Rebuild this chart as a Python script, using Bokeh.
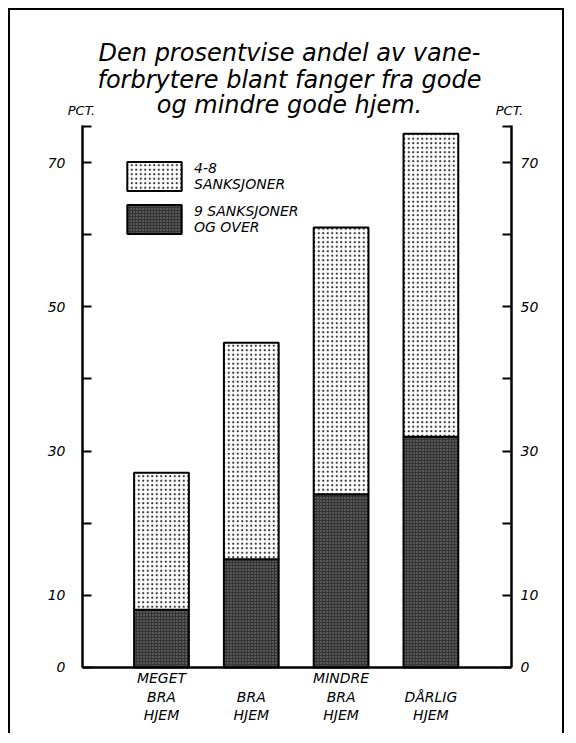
from bokeh.plotting import figure
from bokeh.models import Range1d, LinearAxis, FixedTicker, Label, Legend, LegendItem, ColumnDataSource
from bokeh.embed import file_html
from bokeh.resources import INLINE

# ---- data ----
categories = ["MEGET\nBRA\nHJEM", " \nBRA\nHJEM", "MINDRE\nBRA\nHJEM", " \nDÅRLIG\nHJEM"]
bar_x = [1, 2, 3, 4]
sanksjoner_9_og_over = [8, 15, 24, 32]
sanksjoner_4_8 = [19, 30, 37, 42]
y_tick_values = [0, 10, 20, 30, 40, 50, 60, 70, 75]
y_tick_labels = ["0", "10", "", "30", "", "50", "", "70", ""]
series_names = ["4-8\nSANKSJONER", "9 SANKSJONER\nOG OVER"]
title_lines = ["Den prosentvise andel av vane-", "forbrytere blant fanger fra gode", "og mindre gode hjem."]
unit_label = "PCT."

FONT = "DejaVu Sans"
Y_TOP = 75.13
X_LEFT_AXIS = 0.1203
X_RIGHT_AXIS = 4.8976

src = ColumnDataSource(dict(x=bar_x, dark=sanksjoner_9_og_over, light=sanksjoner_4_8))

p = figure(width=556, height=725,
           x_range=Range1d(-0.6815, 5.5100), y_range=Range1d(-9.426, 91.07),
           output_backend="svg", toolbar_location=None,
           min_border_left=0, min_border_right=0, min_border_top=0, min_border_bottom=0)
p.margin = (8, 8, 8, 8)
p.styles = {"border-left": "2px solid black", "border-top": "2px solid black",
            "border-right": "2px solid black"}
p.grid.visible = False
p.outline_line_color = None
p.background_fill_color = "white"
p.border_fill_color = "white"

rs = p.vbar_stack(["dark", "light"], x="x", width=0.61, source=src,
                  fill_color=["#353535", "white"],
                  hatch_pattern=["dot", "dot"],
                  hatch_color=["#8a8a8a", "#333333"],
                  hatch_scale=[3, 4.5],
                  hatch_weight=[1, 1],
                  line_color="black", line_width=2)

# axes (drawn at fixed positions inside the full-canvas frame)
yticks = FixedTicker(ticks=y_tick_values)
overrides = {v: s for v, s in zip(y_tick_values, y_tick_labels)}

ax_l = p.yaxis[0]
ax_r = LinearAxis()
p.add_layout(ax_r, "right")
for ax, st, loc in ((ax_l, 17, X_LEFT_AXIS), (ax_r, 9, X_RIGHT_AXIS)):
    ax.fixed_location = loc
    ax.ticker = yticks
    ax.bounds = (0, Y_TOP)
    ax.major_label_overrides = overrides
    ax.axis_line_width = 2.5
    ax.major_tick_line_width = 2
    ax.major_tick_in = 9
    ax.major_tick_out = 0
    ax.minor_tick_line_color = None
    ax.major_label_standoff = st
    ax.major_label_text_font = FONT
    ax.major_label_text_font_style = "italic"
    ax.major_label_text_font_size = "14px"
    ax.major_label_text_color = "black"

ax_b = p.xaxis[0]
ax_b.fixed_location = 0
ax_b.ticker = FixedTicker(ticks=bar_x)
ax_b.bounds = (X_LEFT_AXIS, X_RIGHT_AXIS)
ax_b.major_label_overrides = {v: s for v, s in zip(bar_x, categories)}
ax_b.axis_line_width = 2.5
ax_b.major_tick_in = 0
ax_b.major_tick_out = 0
ax_b.minor_tick_line_color = None
ax_b.major_label_standoff = 3
ax_b.major_label_text_font = FONT
ax_b.major_label_text_font_style = "italic"
ax_b.major_label_text_font_size = "14px"
ax_b.major_label_text_line_height = 1.15
ax_b.major_label_text_color = "black"

# legend
legend = Legend(items=[LegendItem(label=series_names[0], renderers=[rs[1]]),
                       LegendItem(label=series_names[1], renderers=[rs[0]])],
                location=(110, 498), padding=0, margin=0, spacing=7,
                glyph_width=68, glyph_height=36, label_standoff=6,
                border_line_color=None, background_fill_alpha=0,
                label_text_font=FONT, label_text_font_style="italic",
                label_text_font_size="14px", label_text_line_height=1.25,
                label_text_color="black")
p.add_layout(legend, "center")

# title
for txt, yy in zip(title_lines, [85.11, 81.37, 78.04]):
    p.add_layout(Label(x=2.425, y=yy, text=txt, text_align="center", text_baseline="alphabetic",
                       text_font=FONT, text_font_style="italic", text_font_size="24px",
                       text_color="black"))
# unit labels above each axis
for xx in (0.109, 4.875):
    p.add_layout(Label(x=xx, y=77.21, text=unit_label,
                       text_align="center", text_baseline="middle",
                       text_font=FONT, text_font_style="italic", text_font_size="13px",
                       text_color="black"))

open("out.html", "w").write(file_html(p, INLINE))
